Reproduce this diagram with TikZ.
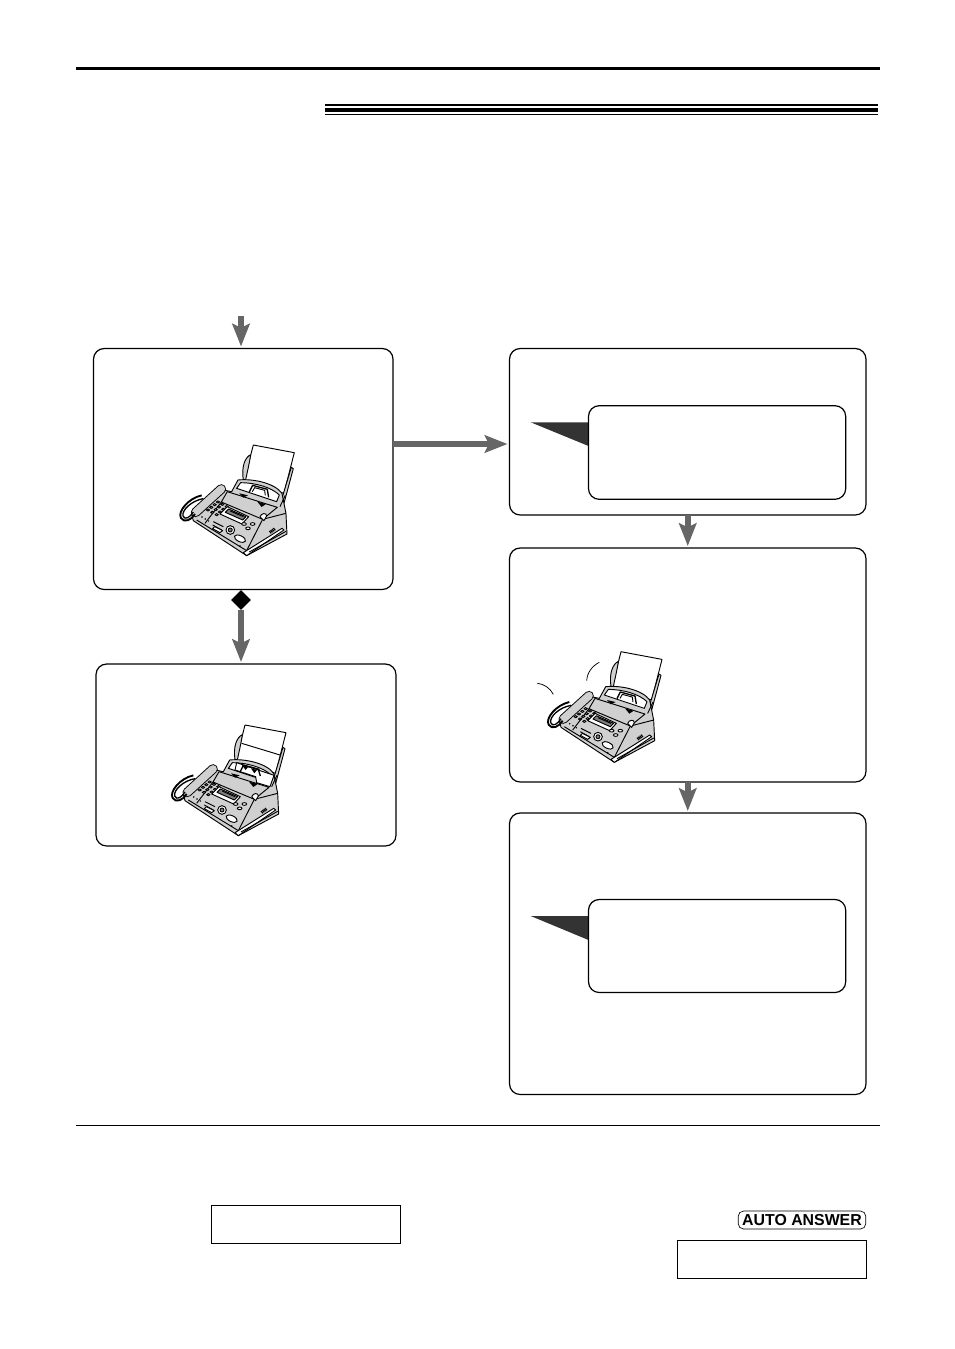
\documentclass[tikz,border=0pt]{standalone}
\usepackage{fontspec}
\setmainfont{Liberation Sans}
\usetikzlibrary{arrows.meta,shapes.geometric}
\definecolor{flowgray}{HTML}{666666}
\definecolor{tabgray}{HTML}{333333}
\definecolor{faxgray}{HTML}{D0D0D0}
\tikzset{
  panel/.style 2 args={draw,line width=0.9pt,rounded corners=8pt,inner sep=0pt,outer sep=0pt,minimum width=#1*0.75pt,minimum height=#2*0.75pt},
  flow/.style={draw=flowgray,line width=4.2pt,shorten >=1.5pt,-{Stealth[length=17pt,width=13pt,inset=3pt]}},
  frame/.style={draw,line width=0.6pt,inner sep=0pt,outer sep=0pt,minimum width=189*0.75pt,minimum height=38*0.75pt},
  faxline/.style={line width=0.7pt,line join=round},
  faxmachine/.pic={
    \begin{scope}[shift={(-520,-405)},faxline]
      % Paper and guides
      \draw[fill=white] (520,405) -- (643,428) -- (612,550) -- (492,515) -- cycle;
      \draw[fill=faxgray] (490,510) .. controls (484,470) and (495,442) .. (512,434) .. controls (508,462) and (502,485) .. (497,510) -- cycle;
      \draw[fill=faxgray] (634,472) -- (640,476) -- (612,580) -- (603,575) -- cycle;
      % Body
      \draw[fill=faxgray] (474,510) .. controls (520,505) and (585,520) .. (606,550) -- (618,610) -- (621,672) -- (500,737) -- (340,632) -- (335,612) -- (430,540) -- (455,545) -- cycle;
      \draw[fill=white] (482,518) .. controls (525,518) and (575,532) .. (598,555) -- (590,575) -- (470,535) -- cycle;
      \draw[fill=faxgray] (442,545) -- (592,592) -- (548,628) -- (424,576) -- cycle;
      \draw[line width=1pt] (508,546) -- (518,526) -- (562,538) -- (566,562);
      \draw (517,545) -- (524,533) -- (554,541) -- (556,556);
      \fill (478,550) -- (504,556) -- (490,563) -- cycle;
      \fill (532,575) -- (558,582) -- (545,591) -- cycle;
      \draw (600,590) -- (616,556) (548,628) -- (618,610);
      \draw[fill=white] (540,620) .. controls (545,608) and (560,608) .. (560,618) -- (552,632) -- cycle;
      % Front face
      \draw (424,576) -- (375,640) (548,628) -- (500,722) -- (350,630);
      \draw (500,722) -- (500,737);
      % Handset and cord
      \draw[line width=7.2pt,line cap=round] (347,607) -- (424,537);
      \draw[line width=5.8pt,line cap=round,faxgray] (347,607) -- (424,537);
      \draw[line width=1.4pt] (365,556) .. controls (325,565) and (292,605) .. (303,624) .. controls (312,640) and (335,630) .. (345,612);
      \draw[line width=1pt] (370,566) .. controls (335,572) and (305,600) .. (309,618) .. controls (315,632) and (330,622) .. (340,606);
      % Keypad
      \foreach \row in {0,1,2,3}
        \foreach \col in {0,1,2}
          \draw[fill=white] (384+\row*10+\col*13,600-\row*8+\col*7) ellipse [x radius=5,y radius=3.2];
      \foreach \row in {0,1,2}
        \fill (366+\row*10,621+\row*6) circle (2.5);
      % Display
      \draw[fill=white] (442,590) -- (506,620) -- (486,642) -- (420,612) -- cycle;
      \draw[fill=gray] (446,597) -- (498,620) -- (488,630) -- (436,607) -- cycle;
      \draw (451,603) -- (490,620);
      % Controls
      \draw (400,635) -- (430,650) (398,645) -- (425,660);
      \draw[fill=white] (404,650) -- (428,662) -- (420,668) -- (398,656) -- cycle;
      \draw[fill=white] (451,660) circle (13);
      \draw[fill=gray] (451,660) circle (6);
      \draw[fill=white,rotate around={-25:(480,686)}] (480,686) ellipse [x radius=18,y radius=9];
      \foreach \btn/\bty in {492/642,504/655,518/642}
        \draw[fill=white] (\btn,\bty) ellipse [x radius=7,y radius=4];
      % Front edge
      \draw[fill=white] (490,728) -- (606,655) -- (612,660) -- (500,737) -- cycle;
      \draw (508,726) -- (618,664);
      \foreach \vent in {0,1,2,3}
        \draw[line width=0.9pt] (568+\vent*4,663-\vent*3) -- (574+\vent*4,670-\vent*3);
      \fill (480,708) circle (2.5);
    \end{scope}
  },
  faxfold/.pic={
    \begin{scope}[shift={(-520,-405)},faxline]
      \draw[fill=white] (495,518) -- (607,556) -- (595,590) -- (555,578) -- (552,560) -- (490,540) -- cycle;
      \draw (510,460) -- (625,495);
      \draw[line width=1pt] (505,546) -- (515,526) -- (560,538) -- (566,558);
      \fill (510,524) -- (530,530) -- (522,540) -- cycle;
      \fill (538,535) -- (556,540) -- (548,550) -- cycle;
    \end{scope}
  }
}

\begin{document}
\begin{tikzpicture}[x=0.75pt,y=-0.75pt]
  \useasboundingbox (0,0) rectangle (954,1349);

  % Page rules
  \draw[line width=1.6pt] (76,68.5) -- (880,68.5);
  \draw[line width=0.6pt] (76,1125) -- (880,1125);
  \fill (325,104) rectangle (878,106);
  \fill (325,107.7) rectangle (878,112);
  \fill (325,113.7) rectangle (878,115);

  % Panels
  \node[panel={299.5}{241}] (load) at (243.25,469) {};
  \node[panel={300}{182}] (adjust) at (246,755) {};
  \node[panel={356.5}{166.5}] (press) at (687.75,431.75) {};
  \node[panel={356.5}{234}] (ring) at (687.75,665) {};
  \node[panel={356.5}{281.5}] (receive) at (687.75,953.75) {};

  % Callouts
  \fill[tabgray] (530.7,422.3) -- (588.5,422.3) -- (588.5,446) -- cycle;
  \fill[tabgray] (530.7,916) -- (588.5,916) -- (588.5,940) -- cycle;
  \node[panel={257.2}{93.6}] (pressnote) at (717.1,452.5) {};
  \node[panel={257.2}{93}] (receivenote) at (717.1,946) {};

  % Fax machines
  \pic[scale=0.3333] (faxload) at (253.3,445) {faxmachine};
  \pic[scale=0.3333] (faxadjust) at (245,725) {faxmachine};
  \pic[scale=0.3333] (faxfolded) at (245,725) {faxfold};
  \pic[scale=0.3333] (faxring) at (621,651.7) {faxmachine};
  \draw[line width=0.55pt] (537.3,683.3) .. controls (544,684) and (550,688) .. (553.3,694.3);
  \draw[line width=0.55pt] (599.3,662.3) .. controls (592,666) and (587,673) .. (586.7,680.7);

  % Flow
  \node[diamond,fill=black,inner sep=0pt,minimum size=20*0.75pt] (branch) at (241,600) {};
  \coordinate (feed) at (241,316);
  \coordinate (sideway) at (0,444);
  \draw[flow] (feed) -- (feed |- load.north);
  \draw[flow] (branch.south) -- (branch.south |- adjust.north);
  \draw[flow] (load.east |- sideway) -- (press.west |- sideway);
  \draw[flow] (press.south) -- (ring.north);
  \draw[flow] (ring.south) -- (receive.north);

  % Bottom boxes
  \node[frame] (leftframe) at (305.5,1224) {};
  \node[frame] (rightframe) at (771.5,1259) {};
  \node[draw,line width=0.5pt,rounded corners=4pt,inner xsep=3pt,inner ysep=0pt,minimum height=18*0.75pt,font=\bfseries\fontsize{11.9pt}{13pt}\selectfont] (autoanswer) at (802,1220) {AUTO ANSWER};
\end{tikzpicture}
\end{document}
